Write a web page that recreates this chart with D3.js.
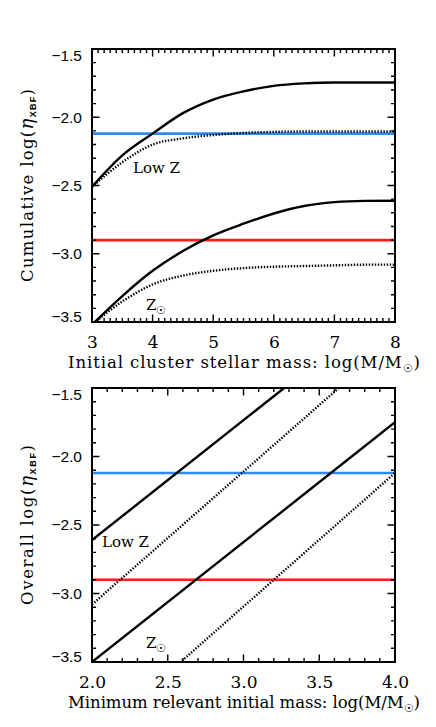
<!DOCTYPE html>
<html>
<head>
<meta charset="utf-8">
<script src="https://cdn.jsdelivr.net/npm/d3@7"></script>
<style>
body { margin: 0; background: #fff; }
</style>
</head>
<body>
<script>
// top panel: cumulative efficiency vs initial cluster stellar mass
var clusterMass = [3, 3.5, 4, 4.5, 5, 5.5, 6, 6.5, 7, 7.5, 8];
var lowZCum     = [-2.51, -2.28, -2.12, -1.97, -1.87, -1.81, -1.77, -1.752, -1.745, -1.745, -1.745];
var lowZCumDot  = [-2.51, -2.33, -2.20, -2.155, -2.13, -2.115, -2.107, -2.104, -2.104, -2.104, -2.104];
var solarCum    = [-3.52, -3.31, -3.125, -2.98, -2.865, -2.78, -2.705, -2.65, -2.622, -2.613, -2.612];
var solarCumDot = [-3.52, -3.35, -3.225, -3.16, -3.125, -3.105, -3.095, -3.09, -3.085, -3.08, -3.08];

// bottom panel: overall efficiency vs minimum relevant initial mass (straight lines)
var minMass        = [2.0, 4.0];
var lowZOverall    = [-2.61, -0.86];
var lowZOverallDot = [-3.08, -1.14];
var solarOverall   = [-3.50, -1.75];
var solarOverallDot= [-4.07, -2.12];

// observed reference levels
var refLevels = [-2.12, -2.90];

var yDomain = [-3.5, -1.5];
var yMajor = [-3.5, -3.0, -2.5, -2.0, -1.5];
var topXMajor = [3, 4, 5, 6, 7, 8];
var botXMajor = [2.0, 2.5, 3.0, 3.5, 4.0];

var svg = d3.select("body").append("svg")
    .attr("width", 436)
    .attr("height", 727)

var serif = "DejaVu Serif";
var sans = "Liberation Sans";

function zip(xs, ys) { return xs.map((x, i) => [x, ys[i]]) }

var tickJobs = []

function panel(opt) {
  var x = d3.scaleLinear().domain(opt.xDomain).range([92, 395])
  var y = d3.scaleLinear().domain(yDomain).range([opt.bottom, opt.top])
  var g = svg.append("g")

  var clipId = "clip" + opt.top
  svg.append("defs").append("clipPath").attr("id", clipId)
    .append("rect")
    .attr("x", 92).attr("y", opt.top)
    .attr("width", 303)
    .attr("height", opt.bottom - opt.top)

  var plot = g.append("g").attr("clip-path", "url(#" + clipId + ")")

  // reference levels
  var refColors = ["#2b8cf4", "#ff1a1a"]
  refLevels.forEach(function(v, i) {
    plot.append("line")
      .attr("x1", x(opt.xDomain[0])).attr("x2", x(opt.xDomain[1]))
      .attr("y1", y(v)).attr("y2", y(v))
      .attr("stroke", refColors[i])
      .attr("stroke-width", 2.6)
  })

  var curveLine = d3.line().x(d => x(d[0])).y(d => y(d[1])).curve(opt.curve)
  opt.series.forEach(function(s) {
    plot.append("path")
      .datum(zip(opt.xs, s.v))
      .attr("d", curveLine)
      .attr("fill", "none")
      .attr("stroke", "#000")
      .attr("stroke-width", 2.4)
      .attr("stroke-dasharray", s.dot ? "1.4,1.6" : null)
  })

  // labelled axes
  var xLab = g.append("g").attr("transform", "translate(0," + opt.bottom + ")")
    .call(d3.axisBottom(x).tickValues(opt.xMajor).tickSize(0).tickPadding(14).tickFormat(d3.format(opt.xFmt)))
  xLab.select(".domain").remove()
  xLab.selectAll("text").attr("font-family", serif).attr("font-size", 17).attr("fill", "#000")

  var yLab = g.append("g").attr("transform", "translate(92,0)")
    .call(d3.axisLeft(y).tickValues(yMajor).tickSize(0).tickPadding(10).tickFormat(d3.format(".1f")))
  yLab.select(".domain").remove()
  yLab.selectAll("text").attr("font-family", sans).attr("font-size", 15.5).attr("fill", "#000")
    .attr("dy", d => d === yDomain[0] ? "-0.05em" : d === yDomain[1] ? "0.75em" : "0.32em")

  g.append("rect")
    .attr("x", 92).attr("y", opt.top)
    .attr("width", 303)
    .attr("height", opt.bottom - opt.top)
    .attr("fill", "none").attr("stroke", "#000").attr("stroke-width", 2)

  // x title
  var xt = g.append("text")
    .attr("x", 244)
    .attr("y", opt.bottom + 46)
    .attr("text-anchor", "middle")
    .attr("font-family", serif).attr("font-size", 16.5)
    .attr("textLength", 352).attr("lengthAdjust", "spacing")
  xt.append("tspan").text(opt.xTitle + " log(M/M")
  xt.append("tspan").attr("font-size", 11).attr("dy", 4).text("\u2609")
  xt.append("tspan").attr("dy", -4).text(")")

  // y title
  var yt = g.append("text")
    .attr("transform", "translate(33," + ((opt.top + opt.bottom) / 2) + ") rotate(-90)")
    .attr("text-anchor", "middle")
    .attr("font-family", serif).attr("font-size", 16.5)
    .attr("textLength", opt.yLen).attr("lengthAdjust", "spacing")
  yt.append("tspan").text(opt.yTitle + " log(")
  yt.append("tspan").attr("font-style", "italic").attr("font-size", 18).text("\u03b7")
  yt.append("tspan").attr("font-family", sans).attr("font-weight", "bold").attr("font-size", 9).attr("dy", 3).text("XBF")
  yt.append("tspan").attr("dy", -3).text(")")

  // curve labels
  g.append("text").attr("x", opt.lowZLab[0]).attr("y", opt.lowZLab[1])
    .attr("font-family", serif).attr("font-size", 15).text("Low Z")
  var zs = g.append("text").attr("x", opt.solLab[0]).attr("y", opt.solLab[1])
    .attr("font-family", serif).attr("font-size", 15)
  zs.append("tspan").text("Z")
  zs.append("tspan").attr("font-size", 11).attr("dy", 4).text("\u2609")

  tickJobs.push({x: x, y: y, opt: opt})
}

panel({
  top: 49, bottom: 322,
  xDomain: [3, 8], xs: clusterMass, xMajor: topXMajor, xMinorCount: 50, xFmt: "d",
  curve: d3.curveMonotoneX,
  series: [
    {v: lowZCum}, {v: lowZCumDot, dot: true},
    {v: solarCum}, {v: solarCumDot, dot: true}
  ],
  xTitle: "Initial cluster stellar mass:",
  yTitle: "Cumulative", yLen: 193,
  lowZLab: [133, 173], solLab: [146, 310]
})

panel({
  top: 388, bottom: 662,
  xDomain: [2, 4], xs: minMass, xMajor: botXMajor, xMinorCount: 20, xFmt: ".1f",
  curve: d3.curveLinear,
  series: [
    {v: lowZOverall}, {v: lowZOverallDot, dot: true},
    {v: solarOverall}, {v: solarOverallDot, dot: true}
  ],
  xTitle: "Minimum relevant initial mass:",
  yTitle: "Overall", yLen: 160,
  lowZLab: [102, 547], solLab: [146, 648]
})

// inward tick marks on all four sides, one path per panel, drawn last
tickJobs.forEach(function(job) {
  var x = job.x, y = job.y, o = job.opt
  var p = d3.path()
  function xt(vals, len) {
    vals.forEach(function(v) {
      p.moveTo(x(v), o.bottom); p.lineTo(x(v), o.bottom - len)
      p.moveTo(x(v), o.top); p.lineTo(x(v), o.top + len)
    })
  }
  function yt(vals, len) {
    vals.forEach(function(v) {
      p.moveTo(92, y(v)); p.lineTo(92 + len, y(v))
      p.moveTo(395, y(v)); p.lineTo(395 - len, y(v))
    })
  }
  xt(x.ticks(o.xMinorCount), 4)
  yt(y.ticks(20), 4)
  xt(o.xMajor, 7.5)
  yt(yMajor, 7.5)
  svg.append("path")
    .attr("d", p.toString())
    .attr("fill", "none")
    .attr("stroke", "#000")
    .attr("stroke-width", 1.4)
})
</script>
</body>
</html>
